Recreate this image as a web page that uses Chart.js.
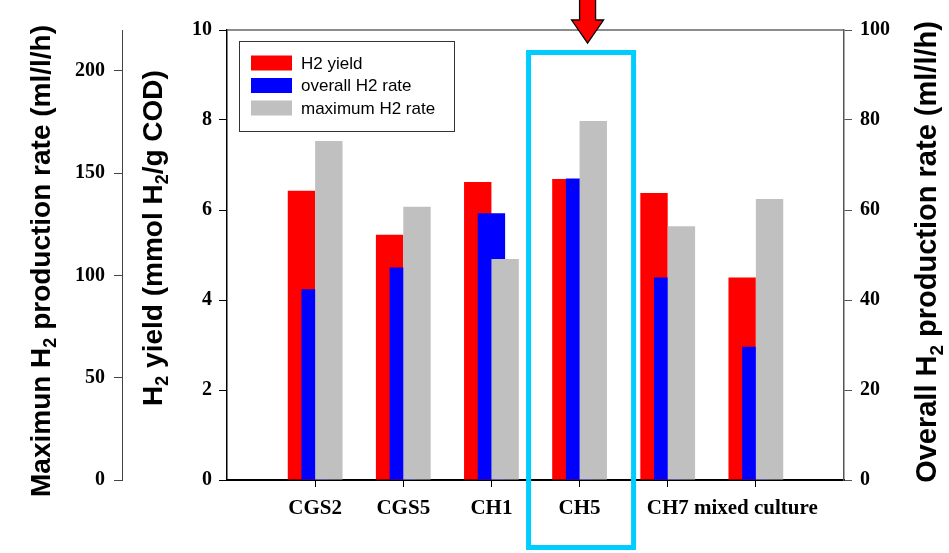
<!DOCTYPE html>
<html>
<head>
<meta charset="utf-8">
<script src="https://cdn.jsdelivr.net/npm/chart.js@4.4.1/dist/chart.umd.min.js"></script>
<style>
  html, body { margin: 0; padding: 0; background: #fff; }
  #wrap { width: 949px; height: 553px; }
</style>
</head>
<body>
<div id="wrap"><canvas id="chart"></canvas></div>
<script>
// Data
const categories = ['CGS2', 'CGS5', 'CH1', 'CH5', 'CH7', 'mixed culture'];
const h2Yield = [6.43, 5.45, 6.62, 6.69, 6.38, 4.50];         // mmol H2/g COD
const overallRate = [42.4, 47.2, 59.3, 67.0, 45.0, 29.6];       // ml/l/h
const maxRate = [165.7, 133.6, 108.0, 175.5, 124.0, 137.4];    // ml/l/h
const yieldTicks = [0, 2, 4, 6, 8, 10];
const overallTicks = [0, 20, 40, 60, 80, 100];
const maxRateTicks = [0, 50, 100, 150, 200];
const highlighted = 'CH5';

// axis titles, [text, isSubscript] pieces
const maxTitle = [['Maximun H', false], ['2', true], [' production rate (ml/l/h)', false]];
const yieldTitle = [['H', false], ['2', true], [' yield (mmol H', false], ['2', true], ['/g COD)', false]];
const overallTitle = [['Overall H', false], ['2', true], [' production rate (ml/l/h)', false]];

// empty slot on each side so the groups sit like in the original
const labels = ['', ...categories, ''];
const pad = (arr) => [null, ...arr, null];

const tickFont = { family: 'Liberation Serif', weight: 'bold', size: 20 };

function fixedTicks(list) {
  return (scale) => { scale.ticks = list.map((v) => ({ value: v })); };
}

// rotated title reading upward, centred on (cx, cy)
function drawTitle(ctx, parts, cx, cy, size) {
  const big = 'bold ' + size + 'px "Liberation Sans"';
  const small = 'bold ' + Math.round(size * 0.66) + 'px "Liberation Sans"';
  let total = 0;
  parts.forEach(([t, sub]) => { ctx.font = sub ? small : big; total += ctx.measureText(t).width; });
  ctx.save();
  ctx.translate(cx, cy);
  ctx.rotate(-Math.PI / 2);
  ctx.textAlign = 'left';
  ctx.textBaseline = 'alphabetic';
  ctx.fillStyle = '#000';
  let pos = -total / 2;
  const base = size * 0.36;
  parts.forEach(([t, sub]) => {
    ctx.font = sub ? small : big;
    ctx.fillText(t, pos, sub ? base + size * 0.22 : base);
    pos += ctx.measureText(t).width;
  });
  ctx.restore();
}

// draw datasets first-to-last so the grey bar lies on top
const drawInOrder = {
  id: 'drawInOrder',
  beforeDatasetsDraw(chart) {
    chart.getSortedVisibleDatasetMetas().forEach((m) => m.controller.draw());
    return false;
  },
};

const extras = {
  id: 'extras',
  afterDraw(chart) {
    const { ctx, chartArea } = chart;
    const x = chart.scales.x;
    ctx.save();

    // top frame line
    ctx.strokeStyle = '#666';
    ctx.lineWidth = 1.5;
    ctx.beginPath();
    ctx.moveTo(chartArea.left, chartArea.top);
    ctx.lineTo(chartArea.right, chartArea.top);
    ctx.stroke();

    // legend
    const lx = 239, ly = 41;
    ctx.strokeStyle = '#333';
    ctx.lineWidth = 1;
    ctx.strokeRect(lx + 0.5, ly + 0.5, 215, 90);
    ctx.font = '17px "Liberation Sans"';
    ctx.textBaseline = 'middle';
    ctx.textAlign = 'left';
    chart.data.datasets.forEach((ds, i) => {
      const cy = ly + 22 + i * 22.5;
      ctx.fillStyle = ds.backgroundColor;
      ctx.fillRect(lx + 12, cy - 7.5, 41, 15);
      ctx.fillStyle = '#000';
      ctx.fillText(ds.label, lx + 62, cy + 1);
    });

    // axis titles
    drawTitle(ctx, maxTitle, 40, 261, 28);
    drawTitle(ctx, yieldTitle, 152, 238, 28);
    drawTitle(ctx, overallTitle, 926, 252, 29);

    // box around the highlighted strain
    const px = x.getPixelForValue(labels.indexOf(highlighted));
    ctx.strokeStyle = '#00CCFF';
    ctx.lineWidth = 5;
    ctx.strokeRect(px - 51, 52.5, 105, 495);

    // red arrow pointing at it
    const ax = px + 8;
    ctx.beginPath();
    ctx.moveTo(ax - 8, -2);
    ctx.lineTo(ax + 8, -2);
    ctx.lineTo(ax + 8, 20);
    ctx.lineTo(ax + 16, 20);
    ctx.lineTo(ax, 43);
    ctx.lineTo(ax - 16, 20);
    ctx.lineTo(ax - 8, 20);
    ctx.closePath();
    ctx.fillStyle = '#FF0000';
    ctx.fill();
    ctx.strokeStyle = '#000';
    ctx.lineWidth = 1.3;
    ctx.stroke();

    ctx.restore();
  },
};

new Chart(document.getElementById('chart'), {
  type: 'bar',
  data: {
    labels: labels,
    datasets: [
      { label: 'H2 yield', data: pad(h2Yield), backgroundColor: '#FF0000', yAxisID: 'yYield' },
      { label: 'overall H2 rate', data: pad(overallRate), backgroundColor: '#0000FF', yAxisID: 'yRate' },
      { label: 'maximum H2 rate', data: pad(maxRate), backgroundColor: '#C0C0C0', yAxisID: 'yMax' },
    ],
  },
  options: {
    responsive: true,
    maintainAspectRatio: false,
    animation: false,
    barPercentage: 2,
    categoryPercentage: 0.466,
    layout: { padding: { top: 30, left: 0, right: 0, bottom: 0 } },
    plugins: { legend: { display: false }, tooltip: { enabled: false } },
    scales: {
      x: {
        offset: false,
        grid: {
          offset: false,
          drawOnChartArea: false,
          tickLength: 7,
          tickColor: (c) => (c.tick && c.tick.label === '' ? 'rgba(0,0,0,0)' : '#000'),
        },
        border: { color: '#000', width: 2 },
        ticks: { color: '#000', font: { family: 'Liberation Serif', weight: 'bold', size: 21 }, padding: 9, maxRotation: 0, autoSkip: false },
        afterFit: (s) => { s.height = 73; },
      },
      yMax: {
        position: 'left',
        weight: 10,
        min: 0,
        max: 220,
        afterBuildTicks: fixedTicks(maxRateTicks),
        grid: { drawOnChartArea: false, tickLength: 8, tickColor: '#444' },
        border: { color: '#444', width: 1 },
        ticks: { color: '#000', font: tickFont, padding: 9 },
        afterFit: (s) => { s.width = 122; },
      },
      yYield: {
        position: 'left',
        weight: 0,
        min: 0,
        max: 10,
        afterBuildTicks: fixedTicks(yieldTicks),
        grid: { drawOnChartArea: false, tickLength: 8, tickColor: '#000' },
        border: { color: '#000', width: 1.5 },
        ticks: { color: '#000', font: tickFont, padding: 7 },
        afterFit: (s) => { s.width = 105; },
      },
      yRate: {
        position: 'right',
        min: 0,
        max: 100,
        afterBuildTicks: fixedTicks(overallTicks),
        grid: { drawOnChartArea: false, tickLength: 8, tickColor: '#555' },
        border: { color: '#555', width: 1.5 },
        ticks: { color: '#000', font: tickFont, padding: 8 },
        afterFit: (s) => { s.width = 105; },
      },
    },
  },
  plugins: [drawInOrder, extras],
});
</script>
</body>
</html>
